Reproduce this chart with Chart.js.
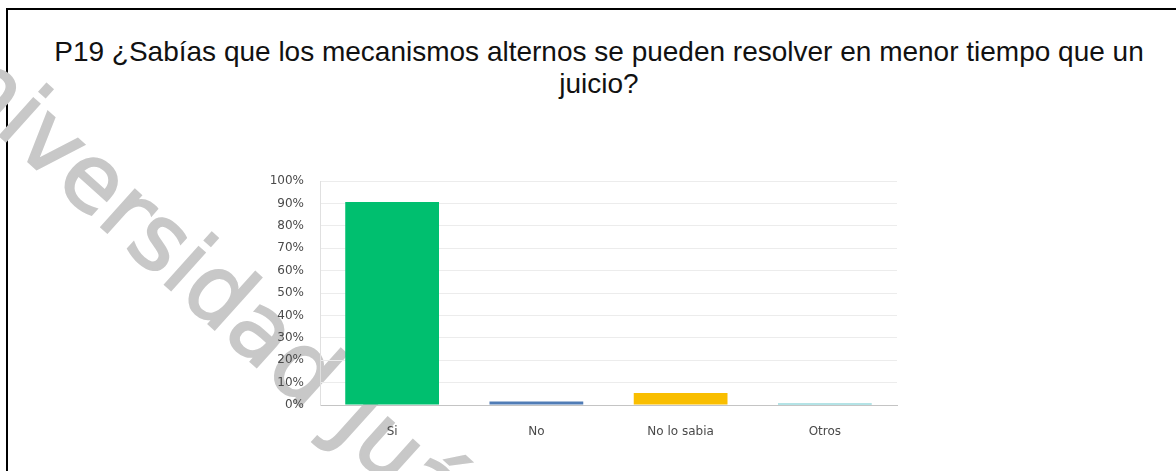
<!DOCTYPE html>
<html>
<head>
    <meta charset="utf-8" />
    <style>
        html, body { margin: 0; padding: 0; background: #fff; }
        body { width: 1176px; height: 471px; position: relative; overflow: hidden; }
        .marco {
            position: absolute; left: 6px; top: 8px; right: -10px; bottom: -10px;
            border-left: 2px solid #000; border-top: 2px solid #000;
        }
        .titulo {
            position: absolute; left: 8px; width: 1182px; top: 36px;
            text-align: center; font-family: "Liberation Sans", Arial, sans-serif;
            font-size: 28px; line-height: 32px; color: #111;
        }
        #marca { position: absolute; left: 0; top: 0; }
        .grafica { position: absolute; left: 250px; top: 158px; width: 652px; height: 287px; }
    </style>
</head>
<body>
    <div class="marco"></div>
    <svg id="marca" width="1176" height="471">
        <text x="-100" y="46" transform="rotate(42 -100 46)" font-family="DejaVu Sans"
            font-size="92" fill="#c8c8c8" stroke="#c8c8c8" stroke-width="2">Universidad Juárez</text>
    </svg>
    <div class="titulo">P19 ¿Sabías que los mecanismos alternos se pueden resolver en menor tiempo que un<br>juicio?</div>
    <div class="grafica"><canvas id="chart"></canvas></div>

    <script src="https://cdn.jsdelivr.net/npm/chart.js"></script>
    <script type="text/javascript">
        // Datos
        var categorias = ['Si', 'No', 'No lo sabia', 'Otros'];
        var porcentajes = [90.7, 1.6, 5.4, 0.7];
        var colores = ['#00bf6f', '#507cb6', '#f9be00', '#6bc8cd'];
        var marcasY = [0, 10, 20, 30, 40, 50, 60, 70, 80, 90, 100];

        var ctx = document.getElementById('chart').getContext('2d');
        var chartInstance = new Chart(ctx, {
            type: 'bar',
            data: {
                labels: categorias,
                datasets: [{
                    label: 'P19',
                    data: porcentajes,
                    backgroundColor: colores,
                    borderWidth: 0,
                    barPercentage: 0.65,
                    categoryPercentage: 1
                }]
            },
            options: {
                responsive: true,
                maintainAspectRatio: false,
                animation: false,
                layout: { padding: { top: 0, right: 5, left: 0, bottom: 0 } },
                plugins: { legend: { display: false }, tooltip: { enabled: false } },
                scales: {
                    x: {
                        grid: { display: false, drawTicks: false },
                        border: { color: '#c4c4c4', width: 1 },
                        ticks: { color: '#4a4a4a', padding: 20, font: { family: 'DejaVu Sans', size: 12 } },
                        afterFit: function (scale) { scale.height = 40; }
                    },
                    y: {
                        min: 0, max: 100,
                        afterBuildTicks: function (scale) {
                            scale.ticks = marcasY.map(function (v) { return { value: v }; });
                        },
                        grid: { color: '#ececec', drawTicks: false },
                        border: { color: '#e0e0e0', width: 1 },
                        ticks: {
                            color: '#4a4a4a', padding: 16,
                            font: { family: 'DejaVu Sans', size: 12 },
                            callback: function (v) { return v + '%'; }
                        },
                        afterFit: function (scale) { scale.width = 70; }
                    }
                }
            }
        });
    </script>
</body>
</html>
